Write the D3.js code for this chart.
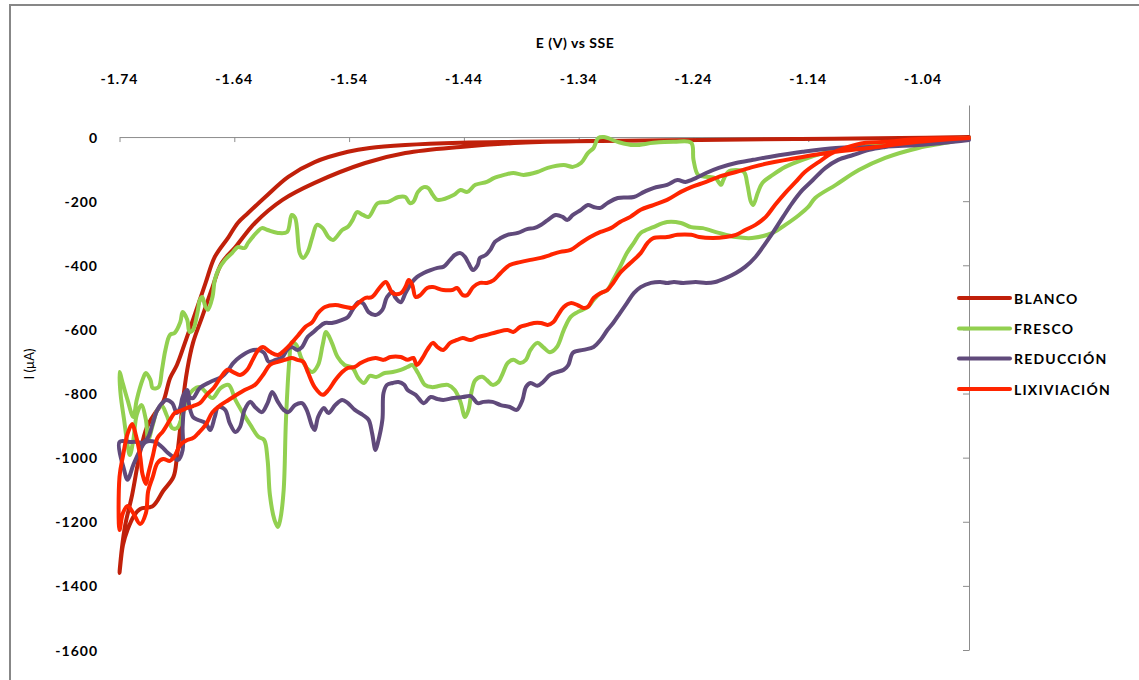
<!DOCTYPE html>
<html>
<head>
<meta charset="utf-8">
<script src="https://cdn.jsdelivr.net/npm/d3@7/dist/d3.min.js"></script>
<style>
  html, body { margin: 0; padding: 0; background: #fff; }
  svg { display: block; }
  text { font-family: "Lato", "Open Sans", "Liberation Sans", sans-serif; fill: #000; }
</style>
</head>
<body>
<svg id="chart" width="1139" height="680"></svg>
<script>
// Cyclic voltammograms: potential E (V vs SSE), current I (µA)
const seriesNames = ["BLANCO", "FRESCO", "REDUCCIÓN", "LIXIVIACIÓN"];
const seriesColors = ["#C0200A", "#92D050", "#604A7B", "#FF2500"];

const xTicks = [-1.74, -1.64, -1.54, -1.44, -1.34, -1.24, -1.14, -1.04];
const yTicks = [0, -200, -400, -600, -800, -1000, -1200, -1400, -1600];

const blanco = [
  [-1.000, 0], [-1.060, -3], [-1.147, -6], [-1.234, -9], [-1.321, -12], [-1.391, -15],
  [-1.443, -18], [-1.491, -25], [-1.522, -34], [-1.541, -46], [-1.570, -78], [-1.593, -124],
  [-1.613, -187], [-1.628, -237], [-1.637, -268], [-1.645, -312], [-1.657, -374], [-1.665, -455],
  [-1.674, -549], [-1.683, -642], [-1.690, -711], [-1.696, -752], [-1.702, -826], [-1.709, -861],
  [-1.716, -904], [-1.722, -982], [-1.729, -1116], [-1.735, -1210], [-1.738, -1285], [-1.740, -1360],
  [-1.737, -1273], [-1.733, -1225], [-1.727, -1179], [-1.722, -1160], [-1.711, -1151], [-1.702, -1104],
  [-1.693, -1060], [-1.690, -998], [-1.687, -904], [-1.685, -830], [-1.681, -726], [-1.676, -642],
  [-1.668, -561], [-1.659, -468], [-1.651, -393], [-1.639, -343], [-1.622, -268], [-1.598, -196],
  [-1.570, -143], [-1.526, -81], [-1.491, -50], [-1.443, -31], [-1.391, -18], [-1.321, -12],
  [-1.234, -9], [-1.147, -6], [-1.060, -3], [-1.000, 0]
];

const fresco = [
  [-1.000, -3], [-1.029, -9], [-1.060, -15], [-1.085, -25], [-1.116, -40], [-1.145, -71],
  [-1.160, -93], [-1.171, -118], [-1.180, -143], [-1.184, -174], [-1.188, -212], [-1.190, -202],
  [-1.193, -149], [-1.196, -109], [-1.203, -103], [-1.210, -109], [-1.214, -134], [-1.216, -149],
  [-1.221, -128], [-1.229, -124], [-1.236, -118], [-1.240, -71], [-1.242, -18], [-1.257, -15],
  [-1.275, -18], [-1.292, -25], [-1.306, -15], [-1.318, 0], [-1.323, -3], [-1.327, -34],
  [-1.332, -50], [-1.338, -81], [-1.345, -93], [-1.353, -87], [-1.367, -96], [-1.376, -109],
  [-1.388, -118], [-1.397, -112], [-1.405, -118], [-1.414, -128], [-1.420, -140], [-1.430, -149],
  [-1.437, -171], [-1.443, -165], [-1.449, -181], [-1.463, -196], [-1.467, -181], [-1.471, -159],
  [-1.475, -156], [-1.480, -171], [-1.484, -202], [-1.487, -206], [-1.491, -187], [-1.497, -187],
  [-1.506, -202], [-1.515, -206], [-1.523, -249], [-1.528, -243], [-1.533, -234], [-1.537, -259],
  [-1.541, -280], [-1.546, -290], [-1.554, -321], [-1.558, -312], [-1.563, -284], [-1.568, -274],
  [-1.572, -312], [-1.576, -358], [-1.580, -377], [-1.583, -362], [-1.587, -252], [-1.590, -243],
  [-1.594, -296], [-1.602, -299], [-1.611, -290], [-1.616, -284], [-1.620, -296], [-1.628, -330],
  [-1.631, -346], [-1.637, -343], [-1.642, -362], [-1.648, -383], [-1.654, -415], [-1.657, -446],
  [-1.659, -499], [-1.663, -539], [-1.665, -530], [-1.668, -499], [-1.670, -508], [-1.672, -546],
  [-1.676, -602], [-1.679, -608], [-1.681, -570], [-1.685, -546], [-1.687, -577], [-1.692, -611],
  [-1.696, -617], [-1.700, -664], [-1.703, -726], [-1.706, -780], [-1.711, -783], [-1.713, -758],
  [-1.717, -736], [-1.720, -758], [-1.725, -820], [-1.728, -873], [-1.733, -820], [-1.737, -770],
  [-1.740, -733],
  [-1.739, -804], [-1.736, -882], [-1.733, -960], [-1.731, -992], [-1.728, -945], [-1.725, -867],
  [-1.721, -836], [-1.717, -882], [-1.715, -945], [-1.711, -898], [-1.707, -851], [-1.703, -839],
  [-1.699, -867], [-1.694, -908], [-1.690, -908], [-1.685, -867], [-1.681, -814], [-1.676, -789],
  [-1.670, -780], [-1.665, -795], [-1.659, -814], [-1.652, -783], [-1.645, -773], [-1.639, -820],
  [-1.633, -858], [-1.626, -898], [-1.619, -935], [-1.614, -945], [-1.611, -1007], [-1.609, -1116],
  [-1.605, -1194], [-1.602, -1216], [-1.600, -1194], [-1.597, -1101], [-1.595, -882], [-1.592, -695],
  [-1.590, -640], [-1.586, -648], [-1.582, -686], [-1.577, -720], [-1.572, -733], [-1.567, -711],
  [-1.563, -648], [-1.560, -608], [-1.555, -642], [-1.550, -686], [-1.544, -711], [-1.537, -720],
  [-1.532, -752], [-1.527, -767], [-1.522, -745], [-1.516, -748], [-1.509, -736], [-1.502, -733],
  [-1.495, -726], [-1.489, -717], [-1.485, -711], [-1.480, -736], [-1.474, -773], [-1.468, -780],
  [-1.461, -776], [-1.454, -773], [-1.448, -789], [-1.443, -826], [-1.439, -873], [-1.436, -851],
  [-1.433, -789], [-1.430, -758], [-1.424, -748], [-1.420, -758], [-1.415, -773], [-1.410, -764],
  [-1.406, -736], [-1.402, -705], [-1.397, -695], [-1.391, -705], [-1.386, -695], [-1.382, -664],
  [-1.376, -642], [-1.371, -655], [-1.365, -671], [-1.359, -655], [-1.353, -602], [-1.347, -561],
  [-1.341, -546], [-1.332, -530], [-1.327, -508], [-1.321, -487], [-1.315, -477], [-1.310, -446],
  [-1.304, -405], [-1.298, -362], [-1.292, -330], [-1.286, -299], [-1.275, -281], [-1.263, -265],
  [-1.251, -268], [-1.242, -281], [-1.232, -284], [-1.218, -299], [-1.203, -312], [-1.189, -315],
  [-1.171, -299], [-1.160, -274], [-1.148, -243], [-1.140, -218], [-1.134, -190], [-1.116, -149],
  [-1.096, -103], [-1.073, -65], [-1.044, -34], [-1.020, -18], [-1.000, -3]
];

const reduccion = [
  [-1.000, -9], [-1.044, -25], [-1.087, -31], [-1.116, -34], [-1.145, -46], [-1.174, -62],
  [-1.188, -71], [-1.203, -81], [-1.218, -96], [-1.229, -112], [-1.238, -128], [-1.242, -134],
  [-1.247, -140], [-1.254, -134], [-1.263, -149], [-1.275, -159], [-1.283, -171], [-1.292, -187],
  [-1.306, -190], [-1.315, -206], [-1.321, -221], [-1.327, -218], [-1.332, -212], [-1.338, -227],
  [-1.345, -243], [-1.350, -259], [-1.354, -249], [-1.360, -243], [-1.367, -259], [-1.373, -274],
  [-1.379, -284], [-1.385, -287], [-1.393, -299], [-1.402, -305], [-1.408, -315], [-1.413, -327],
  [-1.417, -352], [-1.421, -368], [-1.426, -377], [-1.428, -399], [-1.432, -415], [-1.436, -393],
  [-1.439, -374], [-1.443, -362], [-1.448, -368], [-1.452, -383], [-1.458, -405], [-1.463, -408],
  [-1.469, -415], [-1.475, -424], [-1.481, -437], [-1.485, -452], [-1.488, -468], [-1.491, -487],
  [-1.495, -515], [-1.500, -499], [-1.502, -483], [-1.507, -499], [-1.511, -539], [-1.517, -555],
  [-1.523, -546], [-1.528, -518], [-1.532, -515], [-1.537, -539], [-1.541, -561], [-1.546, -570],
  [-1.555, -580], [-1.561, -580], [-1.567, -595], [-1.571, -608], [-1.576, -623], [-1.581, -655],
  [-1.585, -664], [-1.590, -655], [-1.594, -664], [-1.598, -686], [-1.604, -695], [-1.610, -701],
  [-1.614, -673], [-1.619, -664], [-1.626, -667], [-1.635, -686], [-1.641, -705], [-1.645, -726],
  [-1.651, -748], [-1.661, -764], [-1.670, -783], [-1.676, -814], [-1.679, -811], [-1.681, -789],
  [-1.685, -811], [-1.687, -842], [-1.690, -861], [-1.694, -830], [-1.699, -820], [-1.703, -830],
  [-1.707, -851], [-1.711, -892], [-1.715, -936], [-1.720, -954], [-1.725, -951], [-1.731, -951],
  [-1.740, -951],
  [-1.736, -1038], [-1.733, -1069], [-1.728, -1023], [-1.722, -976], [-1.717, -951], [-1.709, -951],
  [-1.703, -967], [-1.698, -985], [-1.692, -1001], [-1.689, -1007], [-1.685, -976], [-1.685, -904],
  [-1.683, -820], [-1.681, -795], [-1.679, -842], [-1.676, -873], [-1.672, -882], [-1.665, -892],
  [-1.661, -914], [-1.657, -873], [-1.654, -842], [-1.648, -851], [-1.644, -892], [-1.639, -920],
  [-1.635, -904], [-1.631, -851], [-1.626, -826], [-1.622, -842], [-1.616, -858], [-1.611, -830],
  [-1.607, -795], [-1.602, -826], [-1.597, -851], [-1.593, -858], [-1.587, -836], [-1.581, -830],
  [-1.577, -851], [-1.572, -904], [-1.570, -914], [-1.567, -873], [-1.562, -845], [-1.558, -861],
  [-1.552, -836], [-1.546, -820], [-1.541, -830], [-1.535, -851], [-1.528, -867], [-1.523, -882],
  [-1.520, -923], [-1.517, -976], [-1.515, -954], [-1.511, -882], [-1.510, -798], [-1.507, -773],
  [-1.502, -767], [-1.497, -764], [-1.492, -773], [-1.489, -789], [-1.482, -804], [-1.475, -830],
  [-1.469, -811], [-1.463, -817], [-1.458, -820], [-1.449, -814], [-1.441, -811], [-1.434, -808],
  [-1.428, -830], [-1.423, -826], [-1.415, -826], [-1.408, -836], [-1.400, -842], [-1.394, -851],
  [-1.389, -820], [-1.386, -780], [-1.382, -767], [-1.376, -776], [-1.371, -764], [-1.365, -742],
  [-1.359, -733], [-1.353, -726], [-1.349, -711], [-1.345, -673], [-1.336, -664], [-1.327, -655],
  [-1.321, -633], [-1.315, -602], [-1.310, -580], [-1.304, -549], [-1.298, -518], [-1.292, -487],
  [-1.286, -468], [-1.277, -455], [-1.269, -452], [-1.263, -455], [-1.257, -452], [-1.249, -455],
  [-1.238, -452], [-1.229, -455], [-1.221, -452], [-1.212, -440], [-1.203, -424], [-1.195, -405],
  [-1.186, -374], [-1.177, -330], [-1.171, -299], [-1.162, -249], [-1.154, -206], [-1.145, -165],
  [-1.136, -134], [-1.125, -96], [-1.114, -71], [-1.101, -56], [-1.087, -40], [-1.073, -31],
  [-1.044, -18], [-1.014, -12], [-1.000, -9]
];

const lixiviacion = [
  [-1.000, -3], [-1.044, -15], [-1.087, -34], [-1.116, -46], [-1.145, -62], [-1.174, -81],
  [-1.188, -93], [-1.203, -109], [-1.218, -124], [-1.229, -140], [-1.242, -156], [-1.251, -171],
  [-1.263, -196], [-1.275, -212], [-1.286, -227], [-1.295, -249], [-1.304, -265], [-1.312, -284],
  [-1.321, -296], [-1.330, -312], [-1.338, -330], [-1.347, -352], [-1.356, -358], [-1.365, -368],
  [-1.373, -377], [-1.382, -383], [-1.391, -390], [-1.400, -399], [-1.408, -424], [-1.414, -446],
  [-1.420, -455], [-1.426, -455], [-1.432, -468], [-1.437, -493], [-1.441, -493], [-1.446, -471],
  [-1.450, -477], [-1.458, -477], [-1.467, -468], [-1.472, -471], [-1.478, -493], [-1.482, -499],
  [-1.485, -461], [-1.488, -446], [-1.491, -468], [-1.495, -487], [-1.502, -487], [-1.508, -452],
  [-1.513, -468], [-1.520, -499], [-1.526, -502], [-1.532, -518], [-1.537, -533], [-1.543, -530],
  [-1.552, -524], [-1.561, -530], [-1.567, -549], [-1.572, -577], [-1.578, -592], [-1.584, -617],
  [-1.590, -642], [-1.596, -664], [-1.602, -680], [-1.609, -670], [-1.615, -655], [-1.619, -664],
  [-1.624, -695], [-1.629, -727], [-1.635, -742], [-1.641, -733], [-1.646, -726], [-1.652, -751],
  [-1.658, -783], [-1.664, -804], [-1.670, -830], [-1.676, -839], [-1.681, -845], [-1.687, -854],
  [-1.692, -861], [-1.696, -882], [-1.702, -917], [-1.707, -939], [-1.711, -995], [-1.715, -1051],
  [-1.717, -1082], [-1.720, -1051], [-1.722, -995], [-1.726, -926], [-1.729, -895], [-1.733, -926],
  [-1.737, -995], [-1.740, -1060], [-1.740, -1226],
  [-1.737, -1173], [-1.733, -1151], [-1.728, -1173], [-1.722, -1207], [-1.717, -1173], [-1.715, -1104],
  [-1.711, -1060], [-1.707, -1017], [-1.702, -1004], [-1.696, -1010], [-1.692, -995], [-1.687, -960],
  [-1.681, -945], [-1.676, -939], [-1.672, -926], [-1.665, -898], [-1.659, -858], [-1.652, -836],
  [-1.645, -820], [-1.638, -804], [-1.631, -789], [-1.622, -773], [-1.615, -742], [-1.609, -711],
  [-1.602, -701], [-1.596, -695], [-1.590, -689], [-1.585, -695], [-1.580, -701], [-1.576, -733],
  [-1.570, -780], [-1.563, -804], [-1.558, -789], [-1.552, -758], [-1.546, -733], [-1.541, -720],
  [-1.535, -717], [-1.530, -705], [-1.524, -695], [-1.517, -689], [-1.510, -695], [-1.504, -686],
  [-1.495, -686], [-1.489, -695], [-1.484, -689], [-1.481, -711], [-1.476, -689], [-1.472, -664],
  [-1.467, -642], [-1.463, -655], [-1.458, -664], [-1.452, -642], [-1.446, -633], [-1.441, -627],
  [-1.434, -633], [-1.428, -624], [-1.420, -617], [-1.411, -608], [-1.402, -602], [-1.397, -608],
  [-1.391, -592], [-1.385, -586], [-1.379, -580], [-1.373, -580], [-1.367, -586], [-1.362, -577],
  [-1.359, -561], [-1.353, -530], [-1.347, -518], [-1.341, -524], [-1.336, -533], [-1.332, -530],
  [-1.327, -502], [-1.321, -487], [-1.315, -477], [-1.310, -455], [-1.304, -424], [-1.295, -393],
  [-1.286, -362], [-1.280, -330], [-1.275, -315], [-1.263, -312], [-1.254, -305], [-1.242, -305],
  [-1.235, -312], [-1.223, -315], [-1.212, -312], [-1.203, -305], [-1.195, -290], [-1.186, -274],
  [-1.177, -249], [-1.169, -212], [-1.160, -174], [-1.151, -140], [-1.143, -109], [-1.131, -78],
  [-1.119, -50], [-1.108, -34], [-1.090, -18], [-1.073, -15], [-1.044, -6], [-1.000, -3]
];

const seriesData = [blanco, fresco, reduccion, lixiviacion];

const svg = d3.select("#chart");
const W = 1139, H = 680;

svg.append("rect").attr("width", W).attr("height", H).attr("fill", "#fff");
// chart-area frame
svg.append("rect")
  .attr("x", 10).attr("y", 5).attr("width", W + 20).attr("height", H + 20)
  .attr("fill", "none").attr("stroke", "#878787").attr("stroke-width", 2);

const x = d3.scaleLinear().domain([-1.74, -1.0]).range([119.5, 969]);
const y = d3.scaleLinear().domain([-1600, 100]).range([650, 105]);

const axisColor = "#8c8c8c";

// horizontal axis crossing at I = 0, labels placed above the plot
const xAxis = svg.append("g")
  .attr("transform", `translate(0,${y(0)})`)
  .call(d3.axisBottom(x).tickValues(xTicks.concat([-1.0])).tickSize(5).tickSizeOuter(0).tickFormat(""));
xAxis.select(".domain").attr("stroke", axisColor);
xAxis.selectAll(".tick line").attr("stroke", axisColor);

svg.append("g").selectAll("text").data(xTicks).join("text")
  .attr("x", d => x(d)).attr("y", 78)
  .attr("text-anchor", "middle").attr("dominant-baseline", "central")
  .attr("font-size", 14).attr("font-weight", "bold").attr("letter-spacing", 1)
  .text(d => d.toFixed(2));

// vertical axis on the right edge, labels at the low side
const yAxis = svg.append("g")
  .attr("transform", `translate(${x(-1.0)},0)`)
  .call(d3.axisLeft(y).tickValues(yTicks).tickSize(6).tickSizeOuter(0).tickFormat(""));
yAxis.select(".domain").attr("stroke", axisColor);
yAxis.selectAll(".tick line").attr("stroke", axisColor);

svg.append("g").selectAll("text").data(yTicks).join("text")
  .attr("x", 98).attr("y", d => y(d))
  .attr("text-anchor", "end").attr("dominant-baseline", "central")
  .attr("font-size", 14).attr("font-weight", "bold").attr("letter-spacing", 1)
  .text(d => String(d));

// axis titles
svg.append("text")
  .attr("x", 575).attr("y", 42)
  .attr("text-anchor", "middle").attr("dominant-baseline", "central")
  .attr("font-size", 14).attr("font-weight", "bold").attr("letter-spacing", 0.5)
  .text("E (V) vs SSE");

svg.append("text")
  .attr("transform", "translate(29,364) rotate(-90)")
  .attr("text-anchor", "middle").attr("dominant-baseline", "central")
  .attr("font-size", 13)
  .text("I (µA)");

// curves
const line = d3.line()
  .x(d => x(d[0]))
  .y(d => y(d[1]))
  .curve(d3.curveCatmullRom.alpha(0.5));

svg.append("g").selectAll("path").data(seriesData).join("path")
  .attr("d", line)
  .attr("fill", "none")
  .attr("stroke", (d, i) => seriesColors[i])
  .attr("stroke-width", 4)
  .attr("stroke-linejoin", "round")
  .attr("stroke-linecap", "round");

// legend
const legendY = [298, 328.5, 358.5, 389];
const legend = svg.append("g");
seriesNames.forEach((name, i) => {
  legend.append("line")
    .attr("x1", 959).attr("x2", 1010)
    .attr("y1", legendY[i]).attr("y2", legendY[i])
    .attr("stroke", seriesColors[i]).attr("stroke-width", 4).attr("stroke-linecap", "round");
  legend.append("text")
    .attr("x", 1014).attr("y", legendY[i])
    .attr("dominant-baseline", "central")
    .attr("font-size", 14).attr("font-weight", "bold").attr("letter-spacing", 1.2)
    .text(name);
});
</script>
</body>
</html>
